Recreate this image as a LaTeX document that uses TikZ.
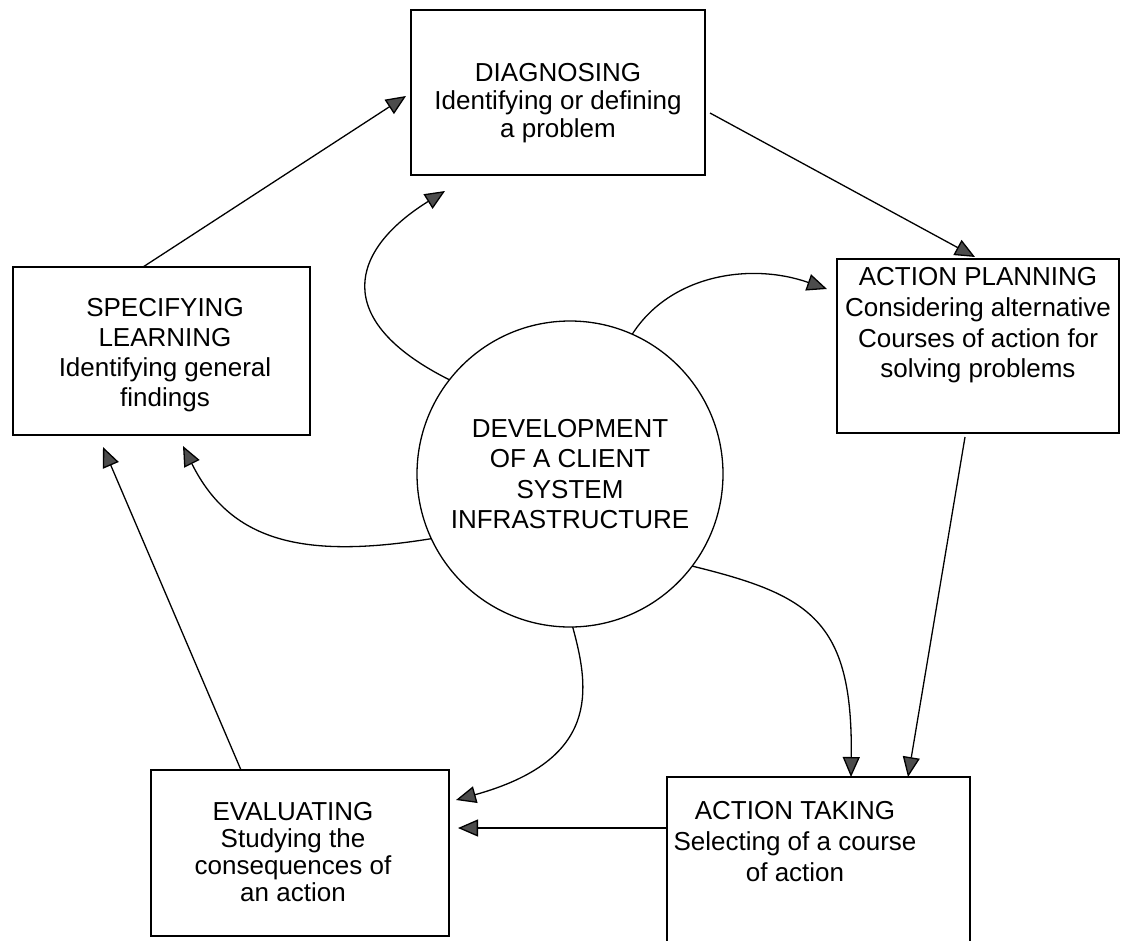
\documentclass[tikz,border=0pt]{standalone}
\usepackage{fontspec}
\setmainfont{Liberation Sans}
\usetikzlibrary{arrows.meta,calc,shapes.geometric}

\tikzset{
  box/.style={draw, line width=1.3pt, rectangle, inner sep=0pt, outer sep=0pt},
  txt/.style={font=\fontsize{26}{#1}\selectfont, align=center, inner sep=0pt},
  link/.style={line width=1.3pt, -{Triangle[length=20pt,width=17pt,fill=black!70]}},
}

\begin{document}
\begin{tikzpicture}[x=1pt,y=-1pt]
  \useasboundingbox (0,0) rectangle (1121,940);
  \clip (0,0) rectangle (1121,940);

  % process boxes
  \node[box, minimum width=294, minimum height=165] (diag) at (558,92.5) {};
  \node[box, minimum width=297, minimum height=168] (spec) at (161.5,351) {};
  \node[box, minimum width=282, minimum height=174] (plan) at (978,346) {};
  \node[box, minimum width=298, minimum height=166] (eval) at (300,853) {};
  \node[box, minimum width=303, minimum height=183] (take) at (818.5,868.5) {};

  % box texts
  \node[txt=28] (diagtext) at (558,103.5) {DIAGNOSING\\Identifying or defining\\a problem};
  \node[txt=30] (spectext) at (165,355.5) {SPECIFYING\\LEARNING\\Identifying general\\findings};
  \node[txt=30.7] (plantext) at (978,325.5) {ACTION PLANNING\\Considering alternative\\Courses of action for\\solving problems};
  \node[txt=27] (evaltext) at (293,852) {EVALUATING\\Studying the\\consequences of\\an action};
  \node[txt=31] (taketext) at (795,841.7) {ACTION TAKING\\Selecting of a course\\of action};

  % central circle
  \node[draw, circle, line width=1.3pt, minimum size=306, inner sep=0pt, outer sep=0pt,
        txt=30.5] (dev) at (570,474)
        {DEVELOPMENT\\OF A CLIENT\\SYSTEM\\INFRASTRUCTURE};

  % outer cycle
  \draw[link] ($(spec.north west)+(130,0)$) -- ($(diag.west)+(-5,3.5)$);
  \draw[link] ($(diag.north east)+(5,103)$) -- ($(plan.north west)+(138,-2)$);
  \draw[link] ($(plan.south west)+(128,4)$) -- ($(take.north west)+(241,0)$);
  \draw[link] ($(take.north west)+(0,51)$) -- ($(eval.north east)+(9,58)$);
  \draw[link] ($(eval.north west)+(90,0)$) -- ($(spec.south west)+(90,12)$);

  % links from the centre
  \draw[link] (dev.142) .. controls (330,320) and (350,250) .. ($(diag.south west)+(34,16)$);
  \draw[link] (dev.66) .. controls (670,275) and (750,262) .. ($(plan.north west)+(-10,30)$);
  \draw[link] (dev.205) .. controls (300,560) and (230,540) .. ($(spec.south west)+(170,11)$);
  \draw[link] (dev.323) .. controls (810,595) and (853,620) .. ($(take.north west)+(184,0)$);
  \draw[link] (dev.271) .. controls (590,690) and (600,760) .. ($(eval.north east)+(7,30)$);
\end{tikzpicture}
\end{document}
